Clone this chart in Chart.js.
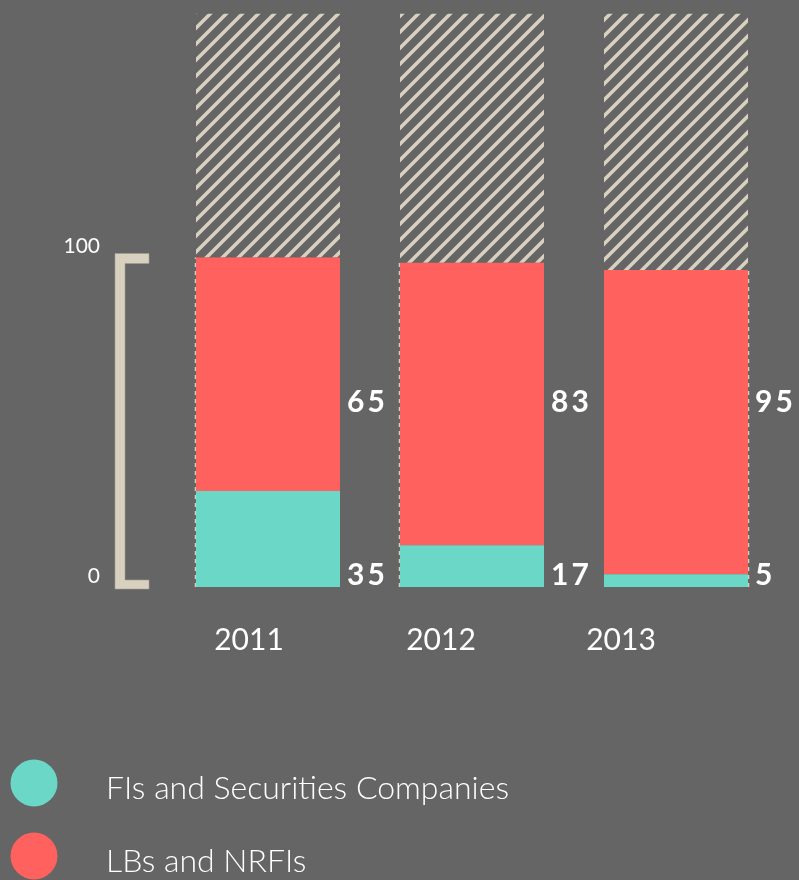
<!DOCTYPE html>
<html>
<head>
<meta charset="utf-8">
<script src="https://cdn.jsdelivr.net/npm/chart.js@4"></script>
<style>
  html, body { margin: 0; padding: 0; background: #656565; }
  #wrap { width: 799px; height: 880px; position: relative; }
</style>
</head>
<body>
<div id="wrap"><canvas id="chart"></canvas></div>
<script>
// data
const years = ['2011', '2012', '2013'];
const fiValues = [29.1, 12.7, 3.9];       // teal bar heights
const lbValues = [70.9, 85.7, 92.3];      // red bar heights
const hatchValues = [74.0, 75.6, 77.8];   // hatched part above
const fiLabels = ['35', '17', '5'];
const lbLabels = ['65', '83', '95'];
const yTicks = [0, 100];
const legendNames = ['FIs and Securities Companies', 'LBs and NRFIs'];

const TEAL = '#6ad7c7';
const RED = '#ff625e';
const BEIGE = '#d9d1c0';
const BG = '#656565';

// diagonal stripes
function makeHatch() {
    const c = document.createElement('canvas');
    c.width = 16; c.height = 16;
    const g = c.getContext('2d');
    g.fillStyle = BG;
    g.fillRect(0, 0, 16, 16);
    g.strokeStyle = BEIGE;
    g.lineWidth = 3.6;
    g.beginPath();
    g.moveTo(-8, 8); g.lineTo(8, -8);
    g.moveTo(0, 16); g.lineTo(16, 0);
    g.moveTo(8, 24); g.lineTo(24, 8);
    g.stroke();
    return g.createPattern(c, 'repeat');
}

const yearOffsets = [-19, -31, -55];

const decor = {
    id: 'decor',
    beforeDatasetsDraw(chart) {
        const ctx = chart.ctx;
        const y = chart.scales.y;
        const meta = chart.getDatasetMeta(0);
        const y0 = y.getPixelForValue(0);
        ctx.save();
        // dashed edge lines
        ctx.strokeStyle = BEIGE;
        ctx.lineWidth = 1.5;
        ctx.setLineDash([4, 4]);
        const edges = [[0, -1], [1, -1], [2, 1]];
        edges.forEach(([i, side]) => {
            const bar = meta.data[i];
            const x = bar.x + side * (bar.width / 2 + 0.5);
            const top = chart.getDatasetMeta(2).data[i].base;
            ctx.beginPath();
            ctx.moveTo(x, y0);
            ctx.lineTo(x, top);
            ctx.stroke();
        });
        ctx.restore();
    },
    afterDraw(chart) {
        const ctx = chart.ctx;
        const y = chart.scales.y;
        const y0 = y.getPixelForValue(0);
        const y100 = y.getPixelForValue(100);
        ctx.save();
        // bracket axis
        ctx.fillStyle = BEIGE;
        ctx.strokeStyle = '#a59e90';
        ctx.lineWidth = 0.6;
        ctx.beginPath();
        ctx.moveTo(115, y100 - 4);
        ctx.lineTo(149, y100 - 4);
        ctx.lineTo(149, y100 + 6);
        ctx.lineTo(125, y100 + 6);
        ctx.lineTo(125, y0 - 7);
        ctx.lineTo(149, y0 - 7);
        ctx.lineTo(149, y0 + 2);
        ctx.lineTo(115, y0 + 2);
        ctx.closePath();
        ctx.fill();
        ctx.stroke();

        // y tick labels
        ctx.fillStyle = '#ffffff';
        ctx.font = '21px Lato';
        ctx.textAlign = 'right';
        ctx.textBaseline = 'alphabetic';
        yTicks.forEach(v => {
            ctx.fillText(String(v), 100, y.getPixelForValue(v) - 4);
        });

        // value labels
        const meta = chart.getDatasetMeta(0);
        ctx.font = 'bold 30px Lato';
        ctx.textAlign = 'left';
        ctx.letterSpacing = '3px';
        meta.data.forEach((bar, i) => {
            const x = bar.x + bar.width / 2 + 7;
            ctx.fillText(lbLabels[i], x, y0 - 175);
            ctx.fillText(fiLabels[i], x, y0 - 2);
        });
        ctx.letterSpacing = '0px';

        // year labels
        ctx.font = '30px Lato';
        ctx.textAlign = 'center';
        meta.data.forEach((bar, i) => {
            ctx.fillText(years[i], bar.x + yearOffsets[i], 650);
        });

        // legend
        const colors = [TEAL, RED];
        ctx.textAlign = 'left';
        ctx.font = '300 32px Lato';
        legendNames.forEach((name, i) => {
            const cy = 783 + i * 73;
            ctx.fillStyle = colors[i];
            ctx.beginPath();
            ctx.arc(34, cy, 23.5, 0, Math.PI * 2);
            ctx.fill();
            ctx.fillStyle = '#ffffff';
            ctx.fillText(name, 106, cy + 16);
        });
        ctx.restore();
    }
};

const hatch = makeHatch();

new Chart(document.getElementById('chart'), {
    type: 'bar',
    data: {
        labels: years,
        datasets: [
            { label: legendNames[0], data: fiValues, backgroundColor: TEAL },
            { label: legendNames[1], data: lbValues, backgroundColor: RED },
            { label: 'rest', data: hatchValues, backgroundColor: hatch }
        ]
    },
    options: {
        responsive: true,
        maintainAspectRatio: false,
        animation: false,
        layout: { padding: { left: 166, right: 21, top: 13, bottom: 293 } },
        datasets: { bar: { barPercentage: 0.706, categoryPercentage: 1, borderWidth: 0 } },
        plugins: { legend: { display: false }, tooltip: { enabled: false } },
        scales: {
            x: { stacked: true, display: false },
            y: { stacked: true, display: false, min: 0, max: 174.2 }
        }
    },
    plugins: [decor]
});
</script>
</body>
</html>
